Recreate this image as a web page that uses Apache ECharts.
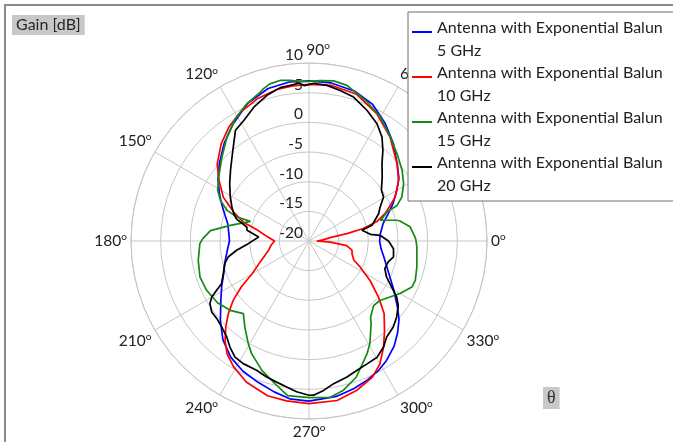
<!DOCTYPE html>
<html>
<head>
<meta charset="utf-8">
<script src="https://cdn.jsdelivr.net/npm/echarts@6/dist/echarts.min.js"></script>
<style>
html,body{margin:0;padding:0;background:#fff}
#chart{width:673px;height:442px}
</style>
</head>
<body>
<div id="chart"></div>
<script>
// 5 GHz
const ang5  = [0,6,13,19,24,30,35,41,49,57,65,73,82,90,97,105,114,123,131,139,146,152,157,163,168,174,180,187,194,201,207,213,222,229,236,243,250,257,263,270,280,287,293,298,303,309,314,319,323,330,338,348,354,360];
const gain5 = [-8.1,-7.9,-7.2,-5.9,-4.5,-2.9,-1.5,-0.3,1.7,3.6,5.4,6.4,6.9,7.0,7.0,6.6,5.4,3.5,1.8,0.0,-1.5,-2.9,-4.0,-5.2,-6.0,-6.4,-6.6,-6.1,-5.4,-4.6,-3.5,-2.3,0.1,2.1,3.6,4.6,5.3,6.1,6.8,7.0,6.6,6.0,5.4,4.8,4.0,2.8,1.5,0.1,-1.3,-3.5,-5.5,-7.1,-7.8,-8.1];
// 10 GHz
const ang10  = [0,4,9,11,13,16,20,27,34,41,52,62,72,82,90,96,102,110,118,125,132,140,146,153,159,164,168,174,180,186,193,203,210,214,218,222,226,230,234,239,246,255,262,270,280,288,295,300,305,310,316,321,327,333,337,343,348,353,357,360];
const gain10 = [-18.7,-17.8,-16.4,-13.5,-10.6,-8.1,-6.3,-3.7,-1.8,-0.3,2.2,4.3,6.0,6.5,6.4,6.3,6.1,5.5,4.6,3.5,2.1,0.2,-1.7,-3.8,-6.4,-8.5,-11.1,-12.9,-14.2,-13.6,-13.0,-11.1,-8.9,-6.3,-3.8,-1.7,0.2,2.0,3.5,4.7,6.0,7.0,7.2,7.4,7.3,6.4,5.3,3.9,1.9,-0.2,-2.4,-4.9,-7.7,-10.3,-11.8,-12.4,-12.6,-13.6,-16.4,-18.7];
// 15 GHz
const ang15  = [0,2,8,12.4,13.3,16.3,17,20.4,22,25.3,31.2,37.2,44.8,52,60.1,67.3,73.4,76.3,81.2,86,90,93,96.6,100,104,106.6,108.1,114.3,121,128.3,136,144.7,151,155.4,159.5,161.6,161.5,168.7,174,178.7,181.4,189.9,198.3,205.7,210.3,214,221.3,227.9,233.3,239.4,243,250,256.5,262.1,270,277.8,283,289.1,297.3,300.7,307,309,315,320,325.3,330,335.9,339.7,346.4,356.8,360];
const gain15 = [-1.95,-2.1,-2.8,-4.3,-4.8,-7.5,-7.1,-6.0,-4.0,-2.7,-1.35,-0.3,0.9,2.25,4.1,5.4,6.4,7.0,7.3,7.1,6.9,6.9,7.25,7.5,7.3,6.8,6.4,5.4,4.1,2.3,0.4,-1.35,-2.4,-3.6,-5.25,-7.2,-9.6,-6.5,-3.3,-2.1,-1.6,-1.05,-0.65,-0.85,-1.2,-1.4,-2.3,-3.5,-1.9,0.1,1.3,3.2,4.7,6.3,6.4,6.6,5.8,4.3,1.35,0.1,-2.6,-3.5,-4.6,-4.4,-3.4,-2.3,-1.0,-0.9,-1.3,-1.8,-1.95];
// 20 GHz
const ang20  = [0,4.6,6.2,11.4,14,21.4,25.6,30.6,35,41.2,46.6,50.8,54.9,59.9,66.1,72.8,78.3,83.4,88.3,91.7,93.7,95.6,100.6,106.1,112.4,118.4,123.6,127.7,132.5,138,144.1,150.8,156.2,160,163,167.3,170.2,175.5,177.3,182.5,187.3,191.2,195,200.8,206,208.1,209.9,212.3,216.1,220,224.6,229.4,233.3,237.5,241.8,247.9,252.7,257.1,261.3,265.3,270,271.7,275.6,279.8,285.6,290.4,295.3,300.4,305.1,309,314.4,319.1,324.2,327.4,330.9,335.1,340,345.2,349.3,354.8,360];
const gain20 = [-6.6,-8.0,-9.6,-10.9,-9.05,-7.4,-6.7,-5.4,-5.1,-3.6,-2.1,-0.3,1.4,2.85,4.1,5.4,5.9,6.4,6.6,6.2,6.7,6.5,6.3,5.55,4.4,3.1,2.4,0.75,-0.8,-2.2,-3.5,-4.8,-5.8,-6.5,-7.2,-9.25,-9.4,-11.5,-11.4,-9.75,-7.7,-6.1,-5.3,-4.55,-3.6,-2.35,-1.1,-0.25,0.3,0.3,0.65,1.3,2.3,3.2,3.45,3.5,4.0,4.4,4.9,5.5,6.0,6.0,5.3,4.4,3.8,3.25,2.9,2.7,1.85,0.8,0.3,-0.45,-1.45,-2.45,-4.05,-5.6,-6.4,-6.2,-5.5,-5.7,-6.6];

const names = [
  'Antenna with Exponential Balun\n5 GHz',
  'Antenna with Exponential Balun\n10 GHz',
  'Antenna with Exponential Balun\n15 GHz',
  'Antenna with Exponential Balun\n20 GHz'
];
const colors = ['#0000ff', '#ff0000', '#138a13', '#000000'];
const angles = [ang5, ang10, ang15, ang20];
const gains = [gain5, gain10, gain15, gain20];

const FONT = 'Lato';
const GRID = '#c6c6c6';

// angle axis runs 90..450 so the radius axis sits at the top
function pts(ang, g){
  return ang.map((a, i) => [g[i], a < 90 ? a + 360 : a]);
}

const chart = echarts.init(document.getElementById('chart'));
chart.setOption({
  animation: false,
  color: colors,
  title: [
    { text: 'Gain [dB]', left: 12, top: 15, backgroundColor: '#c8c8c8', padding: [2, 4, 2, 4],
      textStyle: { fontSize: 16, fontWeight: 'normal', color: '#262626', fontFamily: FONT } },
    { text: 'θ', left: 543, top: 387, backgroundColor: '#c8c8c8', padding: [2, 4, 2, 4],
      textStyle: { fontSize: 18, fontWeight: 'normal', color: '#333', fontFamily: 'Liberation Serif' } }
  ],
  graphic: [{
    type: 'rect', silent: true, z: -10,
    shape: { x: 5, y: 5, width: 720, height: 480 },
    style: { fill: 'none', stroke: '#8a8a8a', lineWidth: 2 }
  }],
  legend: {
    orient: 'vertical', left: 408, top: 12,
    padding: [5, 20, 4, 4],
    itemWidth: 20, itemHeight: 45, itemGap: 0,
    icon: 'path://M0,0M0,14L20,14L20,16L0,16ZM20,45',
    backgroundColor: '#fff', borderColor: '#6e6e6e', borderWidth: 1,
    textStyle: { fontSize: 16, lineHeight: 22.5, color: '#222', fontFamily: FONT },
    data: names
  },
  polar: { center: [309, 241], radius: 178 },
  angleAxis: {
    type: 'value', min: 90, max: 450, interval: 30,
    startAngle: 90, clockwise: false,
    axisLine: { lineStyle: { color: GRID, width: 1 } },
    axisTick: { show: false },
    splitLine: { lineStyle: { color: GRID, width: 1 } },
    axisLabel: {
      margin: 4,
      formatter: v => {
        const d = v % 360;
        return (d === 90 ? '{t|' : '{a|') + d + '}{s|o}';
      },
      rich: {
        a: { fontSize: 15.5, lineHeight: 18, color: '#222', fontFamily: FONT },
        t: { fontSize: 15.5, lineHeight: 18, color: '#222', fontFamily: FONT, padding: [0, 0, 0, 18] },
        s: { fontSize: 10, lineHeight: 10, verticalAlign: 'top', color: '#222', fontFamily: FONT }
      }
    }
  },
  radiusAxis: {
    type: 'value', min: -20, max: 10, interval: 5,
    axisLine: { show: false },
    axisTick: { show: false },
    splitLine: { lineStyle: { color: GRID, width: 1 } },
    axisLabel: { align: 'right', verticalAlign: 'bottom', margin: 6, fontSize: 15.5, color: '#222', fontFamily: FONT }
  },
  series: names.map((n, i) => ({
    name: n, type: 'line', coordinateSystem: 'polar',
    showSymbol: false, symbol: 'none',
    lineStyle: { width: 1.7, color: colors[i] },
    data: pts(angles[i], gains[i])
  }))
});
</script>
</body>
</html>
